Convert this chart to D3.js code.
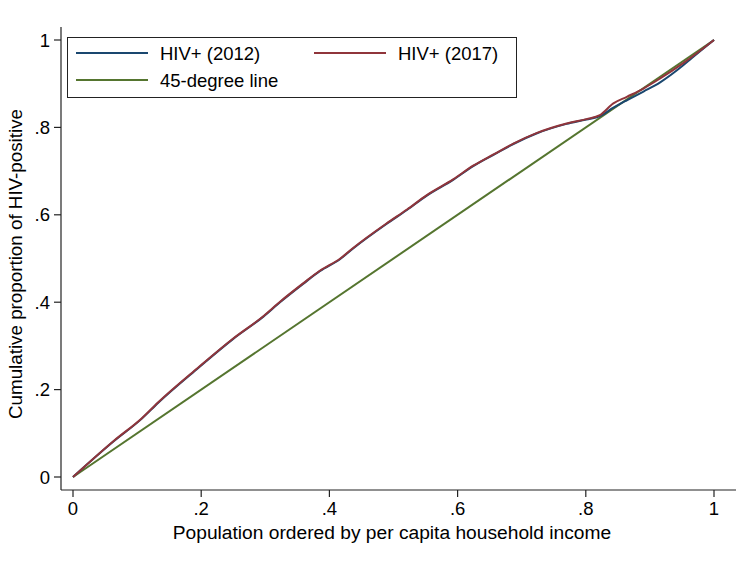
<!DOCTYPE html>
<html lang="en">
<head>
    <meta charset="UTF-8">
    <title>Concentration curve HIV+</title>
    <script src="https://cdn.jsdelivr.net/npm/d3@7/dist/d3.min.js"></script>
    <style>
        body { margin: 0; background: #fff; }
        text { font-family: Arial, "Liberation Sans", sans-serif; fill: #000; }
    </style>
</head>
<body>
<script>
    // population share (x) and cumulative share of HIV+ (y)
    const pop2017 = [0, 0.063, 0.107, 0.133, 0.195, 0.25, 0.297, 0.323, 0.359, 0.385, 0.417, 0.437, 0.489, 0.521,
        0.552, 0.593, 0.625, 0.656, 0.687, 0.723, 0.77, 0.801, 0.822, 0.843, 0.864, 0.89, 0.916, 0.952, 1];
    const hiv2017 = [0, 0.082, 0.134, 0.171, 0.25, 0.317, 0.368, 0.401, 0.443, 0.472, 0.5, 0.524, 0.58, 0.612,
        0.645, 0.681, 0.713, 0.738, 0.763, 0.787, 0.809, 0.819, 0.828, 0.855, 0.87, 0.889, 0.912, 0.947, 1];
    const pop2012 = [0, 0.063, 0.107, 0.133, 0.195, 0.25, 0.297, 0.323, 0.359, 0.385, 0.417, 0.437, 0.489, 0.521,
        0.552, 0.593, 0.625, 0.656, 0.687, 0.723, 0.77, 0.801, 0.822, 0.843, 0.864, 0.89, 0.916, 0.952, 0.965, 1];
    const hiv2012 = [0, 0.081, 0.133, 0.17, 0.249, 0.316, 0.367, 0.4, 0.442, 0.471, 0.499, 0.523, 0.579, 0.611,
        0.644, 0.68, 0.712, 0.737, 0.762, 0.786, 0.808, 0.818, 0.826, 0.845, 0.862, 0.882, 0.903, 0.942, 0.958, 1];
    const diag = [0, 1];

    const xTicks = [0, 0.2, 0.4, 0.6, 0.8, 1];
    const yTicks = [0, 0.2, 0.4, 0.6, 0.8, 1];
    const tickFmt = v => v === 0 ? '0' : v === 1 ? '1' : '.' + Math.round(v * 10);

    const legendItems = [
        {label: 'HIV+ (2012)', color: '#1a476f'},
        {label: 'HIV+ (2017)', color: '#90353b'},
        {label: '45-degree line', color: '#55752f'}
    ];

    const width = 736, height = 563;
    const fs = 18.5;

    const svg = d3.select('body').append('svg')
        .attr('width', width)
        .attr('height', height);

    const x = d3.scaleLinear().domain([0, 1]).range([73, 714]);
    const y = d3.scaleLinear().domain([0, 1]).range([477, 40]);

    // axes
    svg.append('line')
        .attr('x1', 61).attr('x2', 61).attr('y1', 27).attr('y2', 490)
        .attr('stroke', '#222').attr('stroke-width', 1.2);
    svg.append('line')
        .attr('x1', 61).attr('x2', width).attr('y1', 490).attr('y2', 490)
        .attr('stroke', '#222').attr('stroke-width', 1.2);

    svg.selectAll('.ytick').data(yTicks).enter().append('line')
        .attr('x1', 54).attr('x2', 61)
        .attr('y1', d => y(d)).attr('y2', d => y(d))
        .attr('stroke', '#222').attr('stroke-width', 1.2);
    svg.selectAll('.ylab').data(yTicks).enter().append('text')
        .attr('x', 50).attr('y', d => y(d) + 6.5)
        .attr('text-anchor', 'end')
        .style('font-size', fs + 'px')
        .text(tickFmt);

    svg.selectAll('.xtick').data(xTicks).enter().append('line')
        .attr('x1', d => x(d)).attr('x2', d => x(d))
        .attr('y1', 490).attr('y2', 497)
        .attr('stroke', '#222').attr('stroke-width', 1.2);
    svg.selectAll('.xlab').data(xTicks).enter().append('text')
        .attr('x', d => x(d)).attr('y', 515)
        .attr('text-anchor', 'middle')
        .style('font-size', fs + 'px')
        .text(tickFmt);

    svg.append('text')
        .attr('x', 392).attr('y', 539)
        .attr('text-anchor', 'middle')
        .style('font-size', '19.2px')
        .text('Population ordered by per capita household income');

    svg.append('text')
        .attr('transform', 'translate(22,264) rotate(-90)')
        .attr('text-anchor', 'middle')
        .style('font-size', '18.8px')
        .text('Cumulative proportion of HIV-positive');

    // curves
    const line = d3.line().curve(d3.curveMonotoneX);
    const pts = (xs, ys) => xs.map((v, i) => [x(v), y(ys[i])]);

    svg.append('path').attr('d', line(pts(diag, diag)))
        .attr('fill', 'none').attr('stroke', legendItems[2].color).attr('stroke-width', 2);
    svg.append('path').attr('d', line(pts(pop2012, hiv2012)))
        .attr('fill', 'none').attr('stroke', legendItems[0].color).attr('stroke-width', 2);
    svg.append('path').attr('d', line(pts(pop2017, hiv2017)))
        .attr('fill', 'none').attr('stroke', legendItems[1].color).attr('stroke-width', 2);

    // legend
    const lg = svg.append('g');
    lg.append('rect')
        .attr('x', 67.5).attr('y', 37.5).attr('width', 449).attr('height', 60)
        .attr('fill', '#fff').attr('stroke', '#222').attr('stroke-width', 1);
    const pos = [[76, 53], [314, 53], [76, 80]];
    legendItems.forEach((it, i) => {
        const [lx, ly] = pos[i];
        lg.append('line')
            .attr('x1', lx).attr('x2', lx + 72).attr('y1', ly).attr('y2', ly)
            .attr('stroke', it.color).attr('stroke-width', 2);
        lg.append('text')
            .attr('x', lx + 84).attr('y', ly + 6.5)
            .style('font-size', fs + 'px')
            .text(it.label);
    });
</script>
</body>
</html>
